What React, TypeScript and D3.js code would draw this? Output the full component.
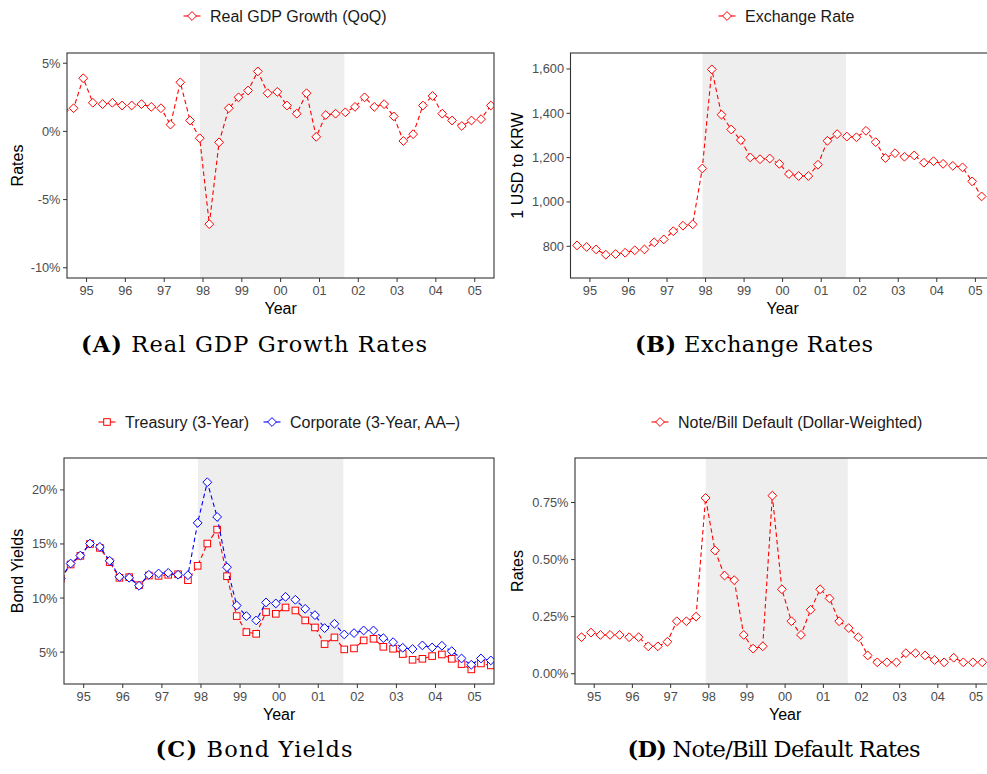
import React from "react";
import * as d3 from "d3";

// quarterly observation dates (first day of Mar / Jun / Sep / Dec)
const quarters = [
  "1994-06", "1994-09", "1994-12",
  "1995-03", "1995-06", "1995-09", "1995-12",
  "1996-03", "1996-06", "1996-09", "1996-12",
  "1997-03", "1997-06", "1997-09", "1997-12",
  "1998-03", "1998-06", "1998-09", "1998-12",
  "1999-03", "1999-06", "1999-09", "1999-12",
  "2000-03", "2000-06", "2000-09", "2000-12",
  "2001-03", "2001-06", "2001-09", "2001-12",
  "2002-03", "2002-06", "2002-09", "2002-12",
  "2003-03", "2003-06", "2003-09", "2003-12",
  "2004-03", "2004-06", "2004-09", "2004-12",
  "2005-03", "2005-06",
];

const gdpGrowth = [1.55, 1.7, 3.9, 2.1, 2.0, 2.1, 1.9, 1.9, 2.0, 1.8, 1.7, 0.5, 3.6, 0.8, -0.5, -6.8, -0.8, 1.7, 2.5, 3.0, 4.4, 2.8, 2.9, 1.9, 1.3, 2.8, -0.4, 1.2, 1.3, 1.4, 1.8, 2.5, 1.8, 2.0, 1.1, -0.7, -0.2, 1.9, 2.6, 1.3, 0.8, 0.4, 0.8, 0.9, 1.9];

const exchangeRate = [null, 804, 797, 786, 762, 765, 771, 782, 786, 818, 831, 868, 893, 899, 1151, 1598, 1394, 1327, 1279, 1201, 1193, 1196, 1172, 1126, 1117, 1117, 1168, 1276, 1306, 1295, 1292, 1321, 1270, 1198, 1220, 1204, 1210, 1177, 1184, 1172, 1163, 1156, 1093, 1025, null];

const treasury = [11.8, 13.1, 13.9, 15.0, 14.64, 13.32, 11.87, 11.93, 11.19, 12.08, 12.05, 12.15, 12.2, 11.65, 12.98, 15.04, 16.33, 12.02, 8.33, 6.85, 6.69, 8.7, 8.54, 9.13, 8.85, 7.93, 7.28, 5.74, 6.36, 5.25, 5.34, 6.08, 6.23, 5.49, 5.31, 4.82, 4.29, 4.38, 4.63, 4.78, 4.38, 3.89, 3.4, 3.95, 3.77];

const corporate = [11.8, 13.19, 13.93, 15.04, 14.73, 13.44, 11.96, 11.87, 11.13, 12.15, 12.27, 12.33, 12.15, 12.11, 16.95, 20.71, 17.5, 12.85, 9.31, 8.33, 7.93, 9.59, 9.5, 10.11, 9.84, 9.0, 8.42, 7.22, 7.62, 6.63, 6.76, 7.0, 7.0, 6.29, 5.92, 5.4, 5.28, 5.62, 5.43, 5.59, 5.09, 4.41, 3.83, 4.41, 4.23];

const defaultRate = [null, 0.16, 0.18, 0.17, 0.17, 0.17, 0.16, 0.16, 0.12, 0.12, 0.14, 0.23, 0.23, 0.25, 0.77, 0.54, 0.43, 0.41, 0.17, 0.11, 0.12, 0.78, 0.37, 0.23, 0.17, 0.28, 0.37, 0.33, 0.23, 0.2, 0.16, 0.08, 0.05, 0.05, 0.05, 0.09, 0.09, 0.08, 0.06, 0.05, 0.07, 0.05, 0.05, 0.05, null];

const yearTicks = ["1995", "1996", "1997", "1998", "1999", "2000", "2001", "2002", "2003", "2004", "2005"];
const crisis = ["1997-12-03", "2001-08-23"];
const xLimits = ["1994-07-01", "2005-07-01"];

const parseMonth = d3.timeParse("%Y-%m");
const parseDay = d3.timeParse("%Y-%m-%d");
const dates = quarters.map(q => parseMonth(q) as Date);

const SANS = "'Liberation Sans', Arial, Helvetica, sans-serif";
const SERIF = "'DejaVu Serif', 'Liberation Serif', serif";
const RED = "#FF0000";
const BLUE = "#0000FF";

type Series = { values: (number | null)[]; color: string; shape: "diamond" | "square"; label: string };

function Marker({ x, y, color, shape }: { x: number; y: number; color: string; shape: string }) {
  if (shape === "square") {
    const s = 3.3;
    return <rect x={x - s} y={y - s} width={2 * s} height={2 * s} fill="white" stroke={color} strokeWidth={1} />;
  }
  const r = 4.4;
  return <path d={`M${x},${y - r}L${x + r},${y}L${x},${y + r}L${x - r},${y}Z`} fill="white" stroke={color} strokeWidth={1} />;
}

function Panel(props: {
  id: string; left: number; top: number; width: number; height: number;
  yDomain: [number, number]; yTicks: number[]; yFormat: (v: number) => string;
  yLabel: string; yLabelX: number;
  series: Series[]; legendX: number[]; legendY: number;
  caption: [string, string]; captionX: number; captionY: number; captionW: number;
}) {
  const { id, left, top, width, height } = props;
  const x = d3.scaleTime()
    .domain([parseDay(xLimits[0]) as Date, parseDay(xLimits[1]) as Date])
    .range([left, left + width]);
  const y = d3.scaleLinear().domain(props.yDomain).range([top + height, top]);
  const bottom = top + height;

  const line = d3.line<[Date, number | null]>()
    .defined(d => d[1] !== null)
    .x(d => x(d[0]))
    .y(d => y(d[1] as number));

  return (
    <g>
      <defs>
        <clipPath id={`clip-${id}`}>
          <rect x={left} y={top} width={width} height={height} />
        </clipPath>
      </defs>
      <rect x={x(parseDay(crisis[0]) as Date)} y={top}
        width={x(parseDay(crisis[1]) as Date) - x(parseDay(crisis[0]) as Date)} height={height} fill="#EEEEEE" />
      <g clipPath={`url(#clip-${id})`}>
        {props.series.map((s, i) => {
          const pts = dates.map((d, j) => [d, s.values[j]] as [Date, number | null]);
          return (
            <g key={i}>
              <path d={line(pts) || ""} fill="none" stroke={s.color} strokeWidth={1.1} strokeDasharray="4.5,3" />
              {pts.filter(p => p[1] !== null).map((p, j) => (
                <Marker key={j} x={x(p[0])} y={y(p[1] as number)} color={s.color} shape={s.shape} />
              ))}
            </g>
          );
        })}
      </g>
      <rect x={left} y={top} width={width} height={height} fill="none" stroke="#333333" strokeWidth={1.1} />
      {props.yTicks.map(t => (
        <g key={t}>
          <line x1={left - 4} x2={left} y1={y(t)} y2={y(t)} stroke="#333333" strokeWidth={1} />
          <text x={left - 6.5} y={y(t) + 4.5} textAnchor="end" fontFamily={SANS} fontSize={12.8} fill="#4D4D4D">
            {props.yFormat(t)}
          </text>
        </g>
      ))}
      {yearTicks.map(t => {
        const d = d3.timeParse("%Y")(t) as Date;
        return (
          <g key={t}>
            <line x1={x(d)} x2={x(d)} y1={bottom} y2={bottom + 4} stroke="#333333" strokeWidth={1} />
            <text x={x(d)} y={bottom + 17} textAnchor="middle" fontFamily={SANS} fontSize={12.8} fill="#4D4D4D">
              {d3.timeFormat("%y")(d)}
            </text>
          </g>
        );
      })}
      <text x={x(parseDay("2000-01-01") as Date)} y={bottom + 35.5} textAnchor="middle"
        fontFamily={SANS} fontSize={16} fill="black">Year</text>
      <text transform={`translate(${props.yLabelX},${top + height / 2}) rotate(-90)`} x={0} y={5.5}
        textAnchor="middle" fontFamily={SANS} fontSize={16} fill="black">{props.yLabel}</text>
      {props.series.map((s, i) => (
        <g key={i}>
          <line x1={props.legendX[i] - 8.5} x2={props.legendX[i] + 8.5} y1={props.legendY} y2={props.legendY}
            stroke={s.color} strokeWidth={1.1} />
          <Marker x={props.legendX[i]} y={props.legendY} color={s.color} shape={s.shape} />
          <text x={props.legendX[i] + 18} y={props.legendY + 5.5} fontFamily={SANS} fontSize={16} fill="#1A1A1A">
            {s.label}
          </text>
        </g>
      ))}
      <text x={props.captionX} y={props.captionY} textAnchor="middle" fontFamily={SERIF} fontSize={22.5}
        fill="black" textLength={props.captionW} lengthAdjust="spacing">
        <tspan fontWeight="bold">{props.caption[0]}</tspan>
        <tspan> {props.caption[1]}</tspan>
      </text>
    </g>
  );
}

const pct0 = (v: number) => `${v}%`;
const pct2 = (v: number) => `${v.toFixed(2)}%`;
const comma = d3.format(",");

export default function App() {
  return (
    <svg width={987} height={774} style={{ position: "absolute", left: 0, top: 0, background: "white" }}>
      <rect width={987} height={774} fill="white" />
      <Panel id="a" left={67} top={53} width={427} height={225}
        yDomain={[-10.75, 5.75]} yTicks={[-10, -5, 0, 5]} yFormat={pct0} yLabel="Rates" yLabelX={17}
        series={[{ values: gdpGrowth, color: RED, shape: "diamond", label: "Real GDP Growth (QoQ)" }]}
        legendX={[192]} legendY={16} caption={["(A)", "Real GDP Growth Rates"]} captionX={254} captionY={352} captionW={346} />
      <Panel id="b" left={570.5} top={53} width={424} height={225}
        yDomain={[657, 1672]} yTicks={[800, 1000, 1200, 1400, 1600]} yFormat={comma} yLabel="1 USD to KRW" yLabelX={517}
        series={[{ values: exchangeRate, color: RED, shape: "diamond", label: "Exchange Rate" }]}
        legendX={[727]} legendY={16} caption={["(B)", "Exchange Rates"]} captionX={754} captionY={352} captionW={238} />
      <Panel id="c" left={64} top={458} width={430} height={226}
        yDomain={[2.05, 22.95]} yTicks={[5, 10, 15, 20]} yFormat={pct0} yLabel="Bond Yields" yLabelX={17}
        series={[
          { values: treasury, color: RED, shape: "square", label: "Treasury (3-Year)" },
          { values: corporate, color: BLUE, shape: "diamond", label: "Corporate (3-Year, AA\u2013)" },
        ]}
        legendX={[107, 272]} legendY={422} caption={["(C)", "Bond Yields"]} captionX={254} captionY={757} captionW={197} />
      <Panel id="d" left={575} top={458} width={420} height={226}
        yDomain={[-0.045, 0.945]} yTicks={[0, 0.25, 0.5, 0.75]} yFormat={pct2} yLabel="Rates" yLabelX={517}
        series={[{ values: defaultRate, color: RED, shape: "diamond", label: "Note/Bill Default (Dollar-Weighted)" }]}
        legendX={[660]} legendY={422} caption={["(D)", "Note/Bill Default Rates"]} captionX={774} captionY={757} captionW={293} />
    </svg>
  );
}
